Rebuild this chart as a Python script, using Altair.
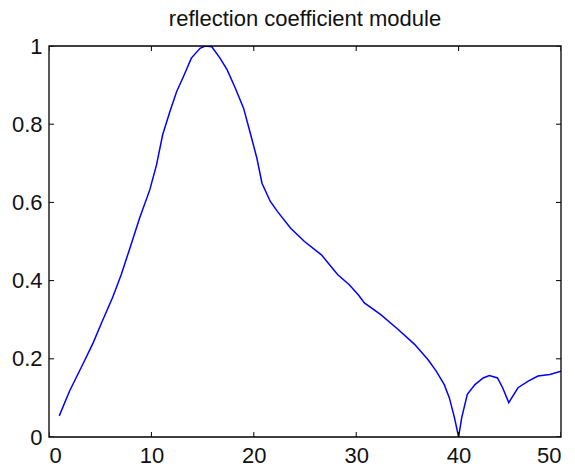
import altair as alt
import pandas as pd

# curve values
x_vals = [1.0, 2.0, 3.3, 4.3, 5.2, 6.2, 7.05, 7.9, 8.85, 9.84, 10.5, 11.1, 11.8, 12.46,
          13.1, 13.9, 14.75, 15.25, 15.9, 16.7, 17.4, 18.2, 19.0, 19.7, 20.3, 20.8,
          21.6, 22.3, 23.6, 24.95, 26.6, 28.2, 29.3, 30.2, 30.8, 32.4, 34.1, 35.7,
          37.0, 37.8, 38.6, 39.1, 39.6, 40.0, 40.3, 40.85, 41.6, 42.4, 43.0, 43.8,
          44.3, 44.9, 45.8, 46.8, 47.75, 48.9, 50.0]
y_vals = [0.054, 0.117, 0.186, 0.24, 0.296, 0.356, 0.415, 0.483, 0.56, 0.632, 0.696,
          0.773, 0.832, 0.883, 0.92, 0.969, 0.994, 1.0, 0.998, 0.969, 0.939, 0.892,
          0.841, 0.773, 0.713, 0.649, 0.603, 0.577, 0.534, 0.50, 0.466, 0.415, 0.39,
          0.364, 0.343, 0.313, 0.275, 0.237, 0.198, 0.169, 0.134, 0.10, 0.049, 0.0,
          0.049, 0.109, 0.134, 0.151, 0.157, 0.151, 0.126, 0.088, 0.126, 0.143,
          0.156, 0.16, 0.168]

x_ticks = [0, 10, 20, 30, 40, 50]
y_ticks = [0, 0.2, 0.4, 0.6, 0.8, 1.0]
x_domain = [0, 50]
y_domain = [0, 1]
title_text = "reflection coefficient module"

FONT = "Liberation Sans"

df = pd.DataFrame({"f": x_vals, "r": y_vals})
xt = pd.DataFrame({"t": x_ticks})
yt = pd.DataFrame({"t": y_ticks})
box = pd.DataFrame({"x0": [x_domain[0]], "x1": [x_domain[1]],
                    "y0": [y_domain[0]], "y1": [y_domain[1]]})

xscale = alt.Scale(domain=x_domain, nice=False, zero=False)
yscale = alt.Scale(domain=y_domain, nice=False, zero=False)

line = alt.Chart(df).mark_line(color="#0000ff", strokeWidth=1.5, clip=True).encode(
    x=alt.X("f:Q", scale=xscale,
            axis=alt.Axis(values=x_ticks, title=None, ticks=False, domain=False,
                          grid=False, labelPadding=8, labelFont=FONT,
                          labelFontSize=22, labelColor="#111111", format="d")),
    y=alt.Y("r:Q", scale=yscale,
            axis=alt.Axis(values=y_ticks, title=None, ticks=False, domain=False,
                          grid=False, labelPadding=7, labelFont=FONT,
                          labelFontSize=22, labelColor="#111111", format="~g")),
)

frame = alt.Chart(box).mark_rect(filled=False, stroke="black", strokeWidth=1.3).encode(
    x=alt.X("x0:Q", scale=xscale), x2="x1:Q",
    y=alt.Y("y0:Q", scale=yscale), y2="y1:Q")

tick_style = dict(color="black", thickness=1, size=10, clip=True, opacity=1)

bottom_ticks = alt.Chart(xt).mark_tick(orient="vertical", **tick_style).encode(
    x=alt.X("t:Q", scale=xscale), y=alt.datum(y_domain[0], scale=yscale))
top_ticks = alt.Chart(xt).mark_tick(orient="vertical", **tick_style).encode(
    x=alt.X("t:Q", scale=xscale), y=alt.datum(y_domain[1], scale=yscale))
left_ticks = alt.Chart(yt).mark_tick(orient="horizontal", **tick_style).encode(
    y=alt.Y("t:Q", scale=yscale), x=alt.datum(x_domain[0], scale=xscale))
right_ticks = alt.Chart(yt).mark_tick(orient="horizontal", **tick_style).encode(
    y=alt.Y("t:Q", scale=yscale), x=alt.datum(x_domain[1], scale=xscale))

chart = alt.layer(line, frame, bottom_ticks, top_ticks, left_ticks, right_ticks).properties(
    width=512,
    height=391,
    padding={"left": 49, "top": 46, "right": 14, "bottom": 35},
    autosize=alt.AutoSizeParams(type="none"),
    background="white",
    title=alt.TitleParams(title_text, font=FONT, fontSize=22, fontWeight="normal",
                          color="#111111", anchor="middle"),
).configure_view(strokeWidth=0)

chart.save("out.html", embed_options={"renderer": "svg", "actions": False})
